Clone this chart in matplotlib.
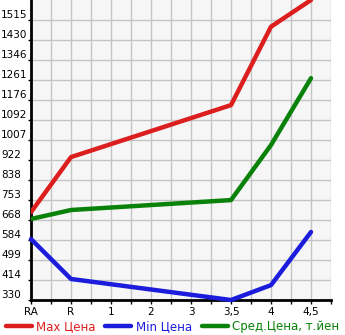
import matplotlib
matplotlib.use("Agg")
import matplotlib.pyplot as plt
import numpy as np

categories = ["RA", "R", "1", "2", "3", "3,5", "4", "4,5"]
ytick_labels = ["330", "414", "499", "584", "668", "753", "838", "922",
                "1007", "1092", "1176", "1261", "1346", "1430", "1515"]

# points exist only for some categories
pt_cats = ["RA", "R", "3,5", "4", "4,5"]
max_price = [702, 935, 1155, 1487, 1600]
min_price = [588, 419, 330, 393, 618]
avg_price = [673, 711, 753, 986, 1269]

fig = plt.figure(figsize=(3.45, 3.35), dpi=100)
ax = fig.add_axes([31/345, 1-300/335, 300/345, 300/335])
ax.set_facecolor("#f6f6f6")

xpos = [categories.index(c) for c in pt_cats]
kw = dict(lw=3.2, solid_capstyle="round", solid_joinstyle="round", zorder=3)
ax.plot(xpos, max_price, color="#dd1e1e", label="Max Цена", **kw)
ax.plot(xpos, min_price, color="#1c1cdc", label="Min Цена", clip_on=False, **kw)
ax.plot(xpos, avg_price, color="#0a820a", label="Сред.Цена, т.йен", **kw)

ymin, ymax = 330, 1600
yt = np.linspace(330, 330 + 14 * (ymax - ymin) / 15, 15)
ax.set_ylim(ymin, ymax)
ax.set_yticks(yt)
ax.set_yticklabels(ytick_labels, fontsize=7.5)
ax.set_xlim(0, 7.5)
ax.set_xticks(range(len(categories)))
ax.set_xticklabels(categories, fontsize=7.5)
ax.set_xticks(np.arange(0.5, 7.6, 1), minor=True)

ax.grid(True, which="both", color="#c4c4c4", lw=1)
ax.set_axisbelow(True)
for s in ["top", "right"]:
    ax.spines[s].set_visible(False)
ax.spines["left"].set_linewidth(2)
ax.spines["bottom"].set_linewidth(2)
ax.tick_params(axis="x", which="both", length=3, width=1, pad=2)
ax.tick_params(axis="y", length=2.5, width=1, pad=19)
for lbl in ax.get_yticklabels():
    lbl.set_verticalalignment("bottom")
    lbl.set_horizontalalignment("left")

leg = fig.legend(loc="lower center", bbox_to_anchor=(0.5, -0.025), ncol=3, frameon=False,
                 fontsize=8.5, handlelength=2.2, columnspacing=0.8, handletextpad=0.4,
                 labelcolor="linecolor")
plt.savefig("out.png", dpi=100)
